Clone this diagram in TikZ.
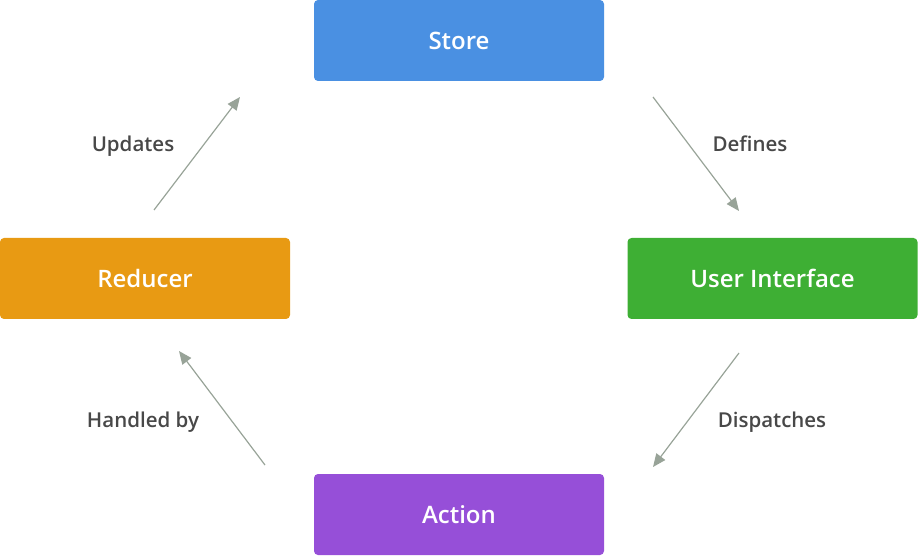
\documentclass[tikz,border=0pt]{standalone}
\usepackage{fontspec}
\setmainfont{Open Sans}
\IfFontExistsTF{Open Sans SemiBold}
  {\newfontfamily\semifont{Open Sans SemiBold}}
  {\IfFontExistsTF{Open Sans Semibold}
    {\newfontfamily\semifont{Open Sans Semibold}}
    {\newfontfamily\semifont{Open Sans}}}
\usetikzlibrary{arrows.meta}
\definecolor{storeblue}{HTML}{4A90E2}
\definecolor{uigreen}{HTML}{3EAF34}
\definecolor{reducerorange}{HTML}{E89A13}
\definecolor{actionpurple}{HTML}{964FD8}
\definecolor{arrowgray}{HTML}{98A398}
\definecolor{labelgray}{HTML}{484848}

\begin{document}
\begin{tikzpicture}[x=1pt, y=-1pt,
  block/.style={rectangle, rounded corners=4pt, minimum width=290pt, minimum height=81pt,
    text=white, font=\semifont\fontsize{24}{28}\selectfont, inner sep=0pt},
  flow/.style={draw=arrowgray, line width=1.2pt, -{Triangle[length=13pt, width=11pt]}},
  lbl/.style={text=labelgray, anchor=base, font=\semifont\fontsize{20.5}{24}\selectfont}]
\useasboundingbox (0,0) rectangle (919,556);

\node[block, fill=storeblue] (S) at (459,40.5) {Store};
\node[block, fill=uigreen] (U) at (772.5,278.5) {User Interface};
\node[block, fill=reducerorange] (R) at (145,278.5) {Reducer};
\node[block, fill=actionpurple] (A) at (459,514.5) {Action};

% arrow ends
\coordinate (s1) at (653,97);
\coordinate (u1) at (739,211);
\coordinate (u2) at (739,353);
\coordinate (a1) at (653,467);
\coordinate (a2) at (265,465);
\coordinate (r1) at (179,351);
\coordinate (r2) at (154,210);
\coordinate (s2) at (240,97);

\draw[flow] (s1) -- (u1);
\draw[flow] (u2) -- (a1);
\draw[flow] (a2) -- (r1);
\draw[flow] (r2) -- (s2);

\node[lbl] (defines) at (750,152) {Defines};
\node[lbl] (dispatches) at (772,427) {Dispatches};
\node[lbl] (handled) at (143,427) {Handled by};
\node[lbl] (updates) at (133,152) {Updates};
\end{tikzpicture}
\end{document}
